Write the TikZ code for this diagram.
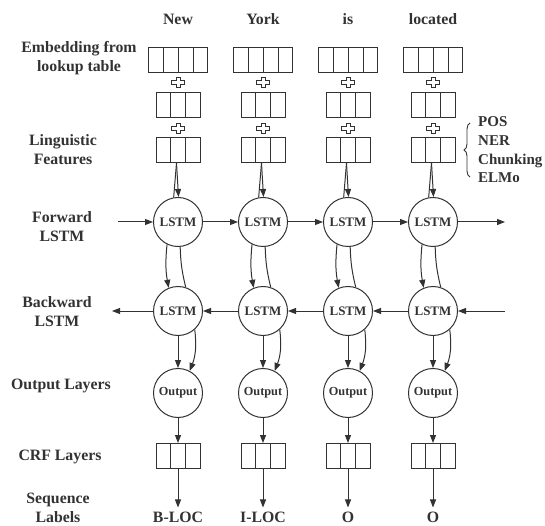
\documentclass[tikz,border=0pt]{standalone}
\usepackage{fontspec}
\setmainfont{Liberation Serif}
\usepackage{tikz}
\usetikzlibrary{positioning,shapes.multipart,arrows.meta,decorations.pathreplacing}

\definecolor{ink}{RGB}{50,50,50}
\newcommand{\slot}{\rule[-12.5pt]{0pt}{25pt}\rule{14pt}{0pt}}

\tikzset{
  >={Triangle[length=8pt,width=6pt]},
  vecbox/.style={draw=ink, rectangle split, rectangle split horizontal,
    inner sep=0pt, line width=1pt},
  cell/.style={draw=ink, circle, minimum size=49pt, inner sep=0pt,
    line width=1pt, text=ink, font=\fontsize{13}{14}\selectfont\bfseries},
  rowlabel/.style={align=center, text=ink, font=\fontsize{15.8}{19}\selectfont\bfseries},
  word/.style={text=ink, inner sep=4pt, font=\fontsize{15.8}{19}\selectfont\bfseries},
  flow/.style={->, draw=ink, line width=1pt},
  wire/.style={draw=ink, line width=1pt},
  addsign/.pic={
    \draw[draw=ink, line width=0.8pt, fill=white]
      (-6.5,-2) -- (-2,-2) -- (-2,-5) -- (2,-5) -- (2,-2) -- (6.5,-2) --
      (6.5,2) -- (2,2) -- (2,5) -- (-2,5) -- (-2,2) -- (-6.5,2) -- cycle;
  }
}

\begin{document}
\begin{tikzpicture}[x=1pt, y=-1pt]
  \useasboundingbox (0,0) rectangle (545,526);

  % row labels on the left
  \node[rowlabel] (lblemb) at (79,58.5) {Embedding from\\lookup table};
  \node[rowlabel] (lblling) at (63,150) {Linguistic\\Features};
  \node[rowlabel] (lblfw) at (62,227) {Forward\\LSTM};
  \node[rowlabel] (lblbw) at (57,312) {Backward\\LSTM};
  \node[rowlabel] (lblout) at (61,386) {Output Layers};
  \node[rowlabel] (lblcrf) at (60,457) {CRF Layers};
  \node[rowlabel] (lblseq) at (58,507.5) {Sequence\\Labels};

  % one column per token
  \foreach \w/\t/\x [count=\i] in {New/B-LOC/178, York/I-LOC/263, is/O/348, located/O/433} {
    \node[word] (word\i) at (\x,19) {\w};
    \node[vecbox, rectangle split parts=4] (emb\i) at (\x,60)
      {\slot\nodepart{two}\slot\nodepart{three}\slot\nodepart{four}\slot};
    \pic at (\x,82) {addsign};
    \node[vecbox, rectangle split parts=3] (mid\i) at (\x,105.5)
      {\slot\nodepart{two}\slot\nodepart{three}\slot};
    \pic at (\x,128) {addsign};
    \node[vecbox, rectangle split parts=3] (feat\i) at (\x,150)
      {\slot\nodepart{two}\slot\nodepart{three}\slot};
    \node[cell] (fw\i) at (\x,222) {LSTM};
    \node[cell] (bw\i) at (\x,311) {LSTM};
    \node[cell, font=\fontsize{12.3}{14}\selectfont\bfseries] (out\i) at (\x,393) {Output};
    \node[vecbox, rectangle split parts=3] (crf\i) at (\x,456)
      {\slot\nodepart{two}\slot\nodepart{three}\slot};
    \node[word] (tag\i) at (\x,517) {\t};

    \draw[flow] ([xshift=-1.5pt]feat\i.south) -- ([xshift=0.5pt]fw\i.north);
    \draw[wire] ([xshift=-1.5pt]feat\i.south) -- (fw\i.100);
    \draw[flow] (fw\i.244) to[bend right=8] (bw\i.112);
    \draw[wire] (fw\i.275) to[bend right=6] (bw\i.72);
    \draw[flow] (bw\i.south) -- (out\i.north);
    \draw[flow] (bw\i.312) to[bend left=14] (out\i.62);
    \draw[flow] (out\i.south) -- (crf\i.north);
    \draw[flow] (crf\i.south) -- (tag\i.north);
  }

  % recurrent links
  \coordinate (fwin) at (118,222);
  \coordinate (fwend) at (505,222);
  \coordinate (bwin) at (505,311);
  \coordinate (bwend) at (112,311);
  \draw[flow] (fwin) -- (fw1);
  \draw[flow] (fw1) -- (fw2);
  \draw[flow] (fw2) -- (fw3);
  \draw[flow] (fw3) -- (fw4);
  \draw[flow] (fw4) -- (fwend);
  \draw[flow] (bwin) -- (bw4);
  \draw[flow] (bw4) -- (bw3);
  \draw[flow] (bw3) -- (bw2);
  \draw[flow] (bw2) -- (bw1);
  \draw[flow] (bw1) -- (bwend);

  % feature list
  \draw[draw=ink, line width=0.9pt, decorate, decoration={brace, amplitude=6pt}]
    (470,177) -- (470,123);
  \node[rowlabel, align=left, anchor=west, inner xsep=1pt,
    font=\fontsize{15}{18.7}\selectfont\bfseries]
    (featlist) at (477,150) {POS\\NER\\Chunking\\ELMo};
\end{tikzpicture}
\end{document}
